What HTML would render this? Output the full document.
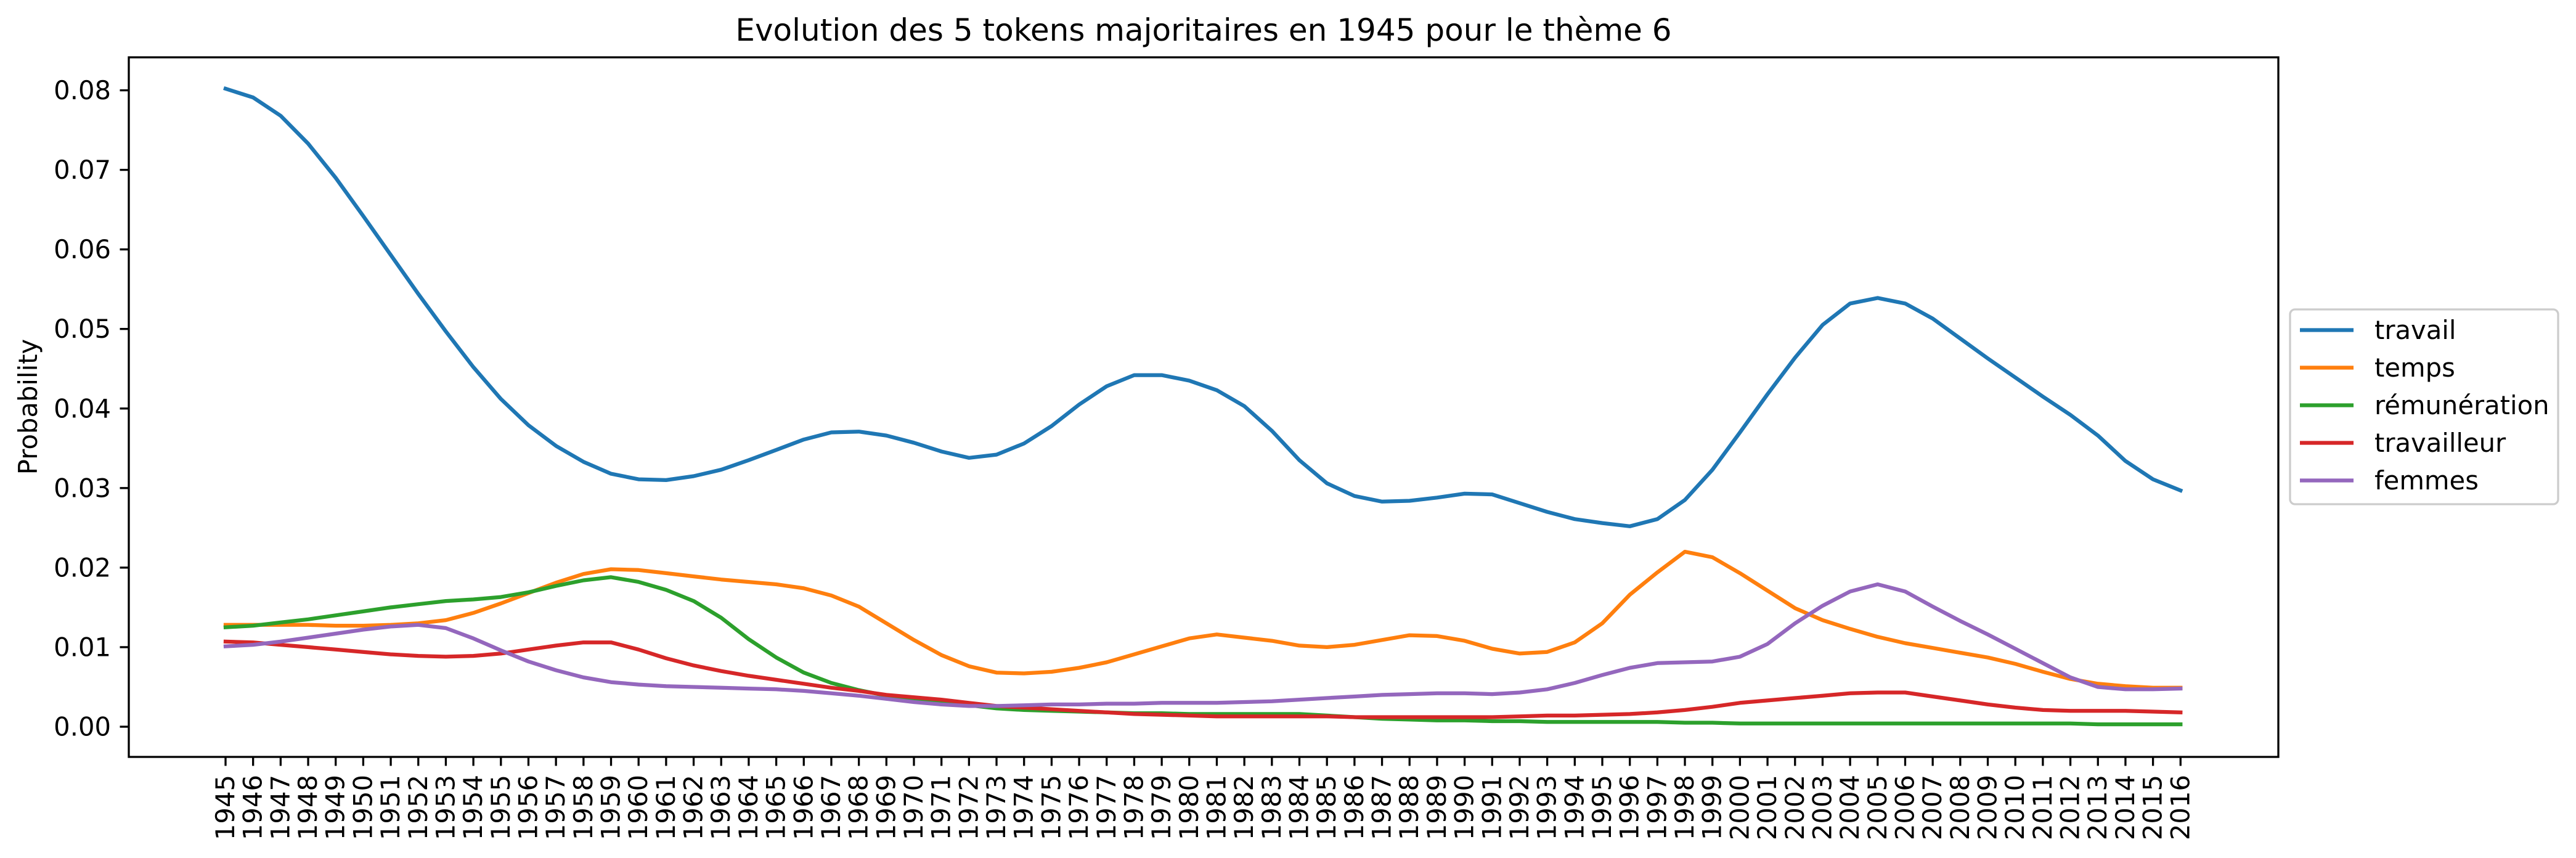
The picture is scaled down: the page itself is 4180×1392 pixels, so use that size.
<!DOCTYPE html>
<html><head><meta charset="utf-8"><style>
html,body{margin:0;padding:0;background:#fff;}
svg{display:block;font-family:"DejaVu Sans","Liberation Sans",sans-serif;}
</style></head><body>
<svg id="chart" width="4180" height="1392" viewBox="0 0 4180 1392" xmlns="http://www.w3.org/2000/svg">
<rect width="4180" height="1392" fill="#fff"/>
<text x="1953" y="66" font-size="50" text-anchor="middle" fill="#000">Evolution des 5 tokens majoritaires en 1945 pour le thème 6</text>
<text transform="translate(60,660) rotate(-90)" font-size="41.7" text-anchor="middle" fill="#000">Probability</text>
<g id="grid"></g>
<g id="series"></g>
<rect x="209" y="93" width="3488" height="1135" fill="none" stroke="#000" stroke-width="3.3"/>
<g id="axes"></g>
<g id="legend"></g>
</svg>
<script>
const years = [];
for (let y = 1945; y <= 2016; y++) years.push(y);
const yTicks = [0, 0.01, 0.02, 0.03, 0.04, 0.05, 0.06, 0.07, 0.08];
const yTickLabels = ["0.00","0.01","0.02","0.03","0.04","0.05","0.06","0.07","0.08"];
const seriesNames = ["travail","temps","rémunération","travailleur","femmes"];
const seriesColors = ["#1f77b4","#ff7f0e","#2ca02c","#d62728","#9467bd"];
const travail = [.0802,.0791,.0768,.0733,.0690,.0642,.0593,.0544,.0497,.0452,.0412,.0379,.0353,.0333,.0318,.0311,.0310,.0315,.0323,.0335,.0348,.0361,.0370,.0371,.0366,.0357,.0346,.0338,.0342,.0356,.0378,.0405,.0428,.0442,.0442,.0435,.0423,.0403,.0372,.0335,.0306,.0290,.0283,.0284,.0288,.0293,.0292,.0281,.0270,.0261,.0256,.0252,.0261,.0285,.0323,.0370,.0418,.0464,.0505,.0532,.0539,.0532,.0513,.0488,.0463,.0439,.0415,.0392,.0366,.0334,.0311,.0297];
const temps = [.0128,.0128,.0128,.0128,.0127,.0127,.0128,.0130,.0134,.0143,.0155,.0168,.0181,.0192,.0198,.0197,.0193,.0189,.0185,.0182,.0179,.0174,.0165,.0151,.0130,.0109,.0090,.0076,.0068,.0067,.0069,.0074,.0081,.0091,.0101,.0111,.0116,.0112,.0108,.0102,.0100,.0103,.0109,.0115,.0114,.0108,.0098,.0092,.0094,.0106,.0130,.0166,.0194,.0220,.0213,.0193,.0171,.0149,.0134,.0123,.0113,.0105,.0099,.0093,.0087,.0079,.0069,.0060,.0054,.0051,.0049,.0049];
const remuneration = [.0125,.0127,.0131,.0135,.0140,.0145,.0150,.0154,.0158,.0160,.0163,.0169,.0177,.0184,.0188,.0182,.0172,.0158,.0137,.0110,.0087,.0068,.0055,.0046,.0039,.0035,.0031,.0027,.0023,.0021,.0020,.0019,.0018,.0017,.0017,.0016,.0016,.0016,.0016,.0016,.0014,.0012,.0010,.0009,.0008,.0008,.0007,.0007,.0006,.0006,.0006,.0006,.0006,.0005,.0005,.0004,.0004,.0004,.0004,.0004,.0004,.0004,.0004,.0004,.0004,.0004,.0004,.0004,.0003,.0003,.0003,.0003];
const travailleur = [.0107,.0106,.0103,.0100,.0097,.0094,.0091,.0089,.0088,.0089,.0092,.0097,.0102,.0106,.0106,.0097,.0086,.0077,.0070,.0064,.0059,.0054,.0049,.0045,.0040,.0037,.0034,.0030,.0026,.0024,.0022,.0020,.0018,.0016,.0015,.0014,.0013,.0013,.0013,.0013,.0013,.0012,.0012,.0012,.0012,.0012,.0012,.0013,.0014,.0014,.0015,.0016,.0018,.0021,.0025,.0030,.0033,.0036,.0039,.0042,.0043,.0043,.0038,.0033,.0028,.0024,.0021,.0020,.0020,.0020,.0019,.0018];
const femmes = [.0101,.0103,.0107,.0112,.0117,.0122,.0126,.0128,.0124,.0111,.0096,.0082,.0071,.0062,.0056,.0053,.0051,.0050,.0049,.0048,.0047,.0045,.0042,.0039,.0035,.0031,.0028,.0026,.0026,.0027,.0028,.0028,.0029,.0029,.0030,.0030,.0030,.0031,.0032,.0034,.0036,.0038,.0040,.0041,.0042,.0042,.0041,.0043,.0047,.0055,.0065,.0074,.0080,.0081,.0082,.0088,.0104,.0130,.0152,.0170,.0179,.0170,.0151,.0133,.0116,.0098,.0080,.0062,.0050,.0047,.0047,.0048];

const NS = "http://www.w3.org/2000/svg";
const X0 = 366, DX = 44.68, Y0 = 1179, YS = 12906;
function xScale(i){ return X0 + i*DX; }
function yScale(v){ return Y0 - v*YS; }
function mk(tag, attrs, parent){ const e=document.createElementNS(NS,tag); for(const k in attrs) e.setAttribute(k,attrs[k]); parent.appendChild(e); return e; }

const axes = document.getElementById("axes");
yTicks.forEach((t,i)=>{
  const y = yScale(t);
  const tk = mk("line",{x1:194.5,x2:209,y1:y,y2:y,stroke:"#000","stroke-width":3.3},axes);
  
  
  const tx = mk("text",{x:180,y:y+14.5,"font-size":41.7,"text-anchor":"end",fill:"#000"},axes);
  tx.textContent = yTickLabels[i];
  
  
});
years.forEach((yr,i)=>{
  const x = xScale(i);
  const tk = mk("line",{x1:x,x2:x,y1:1228,y2:1242.5,stroke:"#000","stroke-width":3.3},axes);
  
  
  const tx = mk("text",{transform:`translate(${x+14},1257) rotate(-90)`,"font-size":41.7,"text-anchor":"end",fill:"#000"},axes);
  tx.textContent = String(yr);
  
  
});

const allSeries = [travail, temps, remuneration, travailleur, femmes];
const sg = document.getElementById("series");
allSeries.forEach((vals,s)=>{
  const d = vals.map((v,i)=>(i?"L":"M")+xScale(i).toFixed(1)+","+yScale(v).toFixed(1)).join(" ");
  const p = mk("path",{d:d,fill:"none",stroke:seriesColors[s],"stroke-width":6.25,"stroke-linejoin":"round","stroke-linecap":"square"},sg);
  
  
});

const lg = document.getElementById("legend");
const box = mk("rect",{x:3716,y:502,width:435,height:316,rx:8,fill:"#fff","fill-opacity":0.8,stroke:"#ccc","stroke-width":3.3},lg);


seriesNames.forEach((n,s)=>{
  const y = 535.5 + s*61;
  const ln = mk("line",{x1:3732,x2:3819,y1:y,y2:y,stroke:seriesColors[s],"stroke-width":6.25},lg);
  
  
  const tx = mk("text",{x:3853,y:y+14.5,"font-size":41.7,fill:"#000"},lg);
  tx.textContent = n;
  
  
});
</script>
</body></html>
